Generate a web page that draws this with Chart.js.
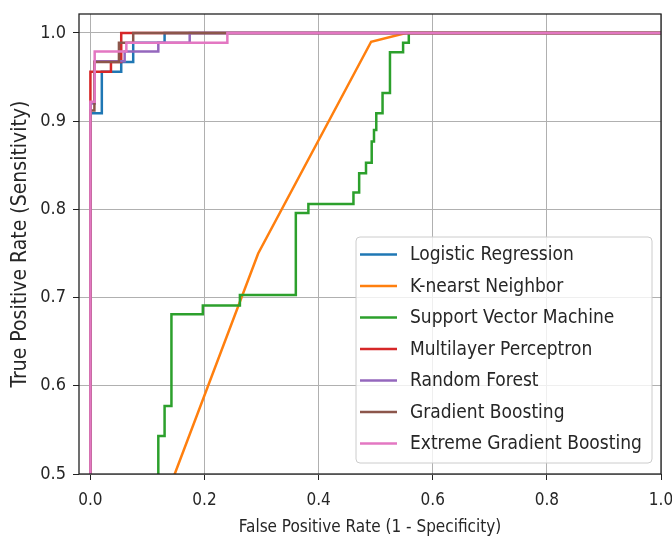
<!DOCTYPE html>
<html>
<head>
<meta charset="utf-8">
<script src="https://cdn.jsdelivr.net/npm/chart.js@4.4.1/dist/chart.umd.min.js"></script>
<style>
  html, body { margin: 0; padding: 0; background: #fff; }
  #wrap { width: 672px; height: 539px; }
</style>
</head>
<body>
<div id="wrap"><canvas id="roc" width="672" height="539"></canvas></div>
<script>
// ROC curves (fpr / tpr pairs per model)
const modelNames = ['Logistic Regression', 'K-nearst Neighbor', 'Support Vector Machine',
  'Multilayer Perceptron', 'Random Forest', 'Gradient Boosting', 'Extreme Gradient Boosting'];
const modelColors = ['#1f77b4', '#ff7f0e', '#2ca02c', '#d62728', '#9467bd', '#8c564b', '#e377c2'];

const lrFpr = [0, 0, 0.02, 0.02, 0.054, 0.054, 0.075, 0.075, 0.13, 0.13, 1];
const lrTpr = [0, 0.909, 0.909, 0.956, 0.956, 0.967, 0.967, 0.989, 0.989, 1, 1];

const knnFpr = [0, 0.06, 0.294, 0.492, 0.553, 1];
const knnTpr = [0, 0.35, 0.75, 0.99, 1, 1];

const svmFpr = [0, 0.119, 0.119, 0.130, 0.130, 0.142, 0.142, 0.197, 0.197, 0.262, 0.262, 0.360, 0.360,
  0.382, 0.382, 0.461, 0.461, 0.471, 0.471, 0.483, 0.483, 0.493, 0.493, 0.497, 0.497, 0.501, 0.501,
  0.512, 0.512, 0.525, 0.525, 0.548, 0.548, 0.558, 0.558, 1];
const svmTpr = [0, 0.45, 0.543, 0.543, 0.577, 0.577, 0.681, 0.681, 0.691, 0.691, 0.703, 0.703, 0.796,
  0.796, 0.806, 0.806, 0.819, 0.819, 0.841, 0.841, 0.853, 0.853, 0.877, 0.877, 0.89, 0.89, 0.909,
  0.909, 0.932, 0.932, 0.978, 0.978, 0.989, 0.989, 1, 1];

const mlpFpr = [0, 0, 0.036, 0.036, 0.054, 0.054, 1];
const mlpTpr = [0, 0.956, 0.956, 0.967, 0.967, 1, 1];

const rfFpr = [0, 0, 0.0075, 0.0075, 0.06, 0.06, 0.119, 0.119, 0.174, 0.174, 1];
const rfTpr = [0, 0.92, 0.92, 0.968, 0.968, 0.979, 0.979, 0.989, 0.989, 1, 1];

const gbFpr = [0, 0, 0.007, 0.007, 0.05, 0.05, 0.075, 0.075, 1];
const gbTpr = [0, 0.912, 0.912, 0.967, 0.967, 0.989, 0.989, 1, 1];

const xgbFpr = [0, 0, 0.0075, 0.0075, 0.063, 0.063, 0.24, 0.24, 1];
const xgbTpr = [0, 0.922, 0.922, 0.979, 0.979, 0.989, 0.989, 1, 1];

const xTicks = [0, 0.2, 0.4, 0.6, 0.8, 1.0];
const yTicks = [0.5, 0.6, 0.7, 0.8, 0.9, 1.0];

const curves = [[lrFpr, lrTpr], [knnFpr, knnTpr], [svmFpr, svmTpr], [mlpFpr, mlpTpr],
  [rfFpr, rfTpr], [gbFpr, gbTpr], [xgbFpr, xgbTpr]];

const FONT = '"DejaVu Sans Condensed", "Liberation Sans Narrow", "DejaVu Sans", sans-serif';
const TEXT = '#262626';

// frame around the axes, like matplotlib spines
const framePlugin = {
  id: 'frame',
  afterDatasetsDraw(chart) {
    const { ctx, chartArea: a } = chart;
    ctx.save();
    ctx.strokeStyle = '#222';
    ctx.lineWidth = 1.3;
    ctx.strokeRect(a.left, a.top, a.right - a.left, a.bottom - a.top);
    ctx.restore();
  }
};

// legend drawn inside the plot, lower right
const boxLegend = {
  id: 'boxLegend',
  afterDraw(chart) {
    const ctx = chart.ctx;
    const x0 = 356, y0 = 237, w = 296, h = 226;
    ctx.save();
    ctx.beginPath();
    ctx.roundRect(x0, y0, w, h, 4);
    ctx.fillStyle = 'rgba(255,255,255,0.8)';
    ctx.fill();
    ctx.strokeStyle = '#cccccc';
    ctx.lineWidth = 1;
    ctx.stroke();
    ctx.font = '19px ' + FONT;
    ctx.textBaseline = 'middle';
    chart.data.datasets.forEach((ds, i) => {
      const y = 254.5 + i * 31.5;
      ctx.strokeStyle = ds.borderColor;
      ctx.lineWidth = 2.5;
      ctx.beginPath();
      ctx.moveTo(360, y);
      ctx.lineTo(397, y);
      ctx.stroke();
      ctx.fillStyle = TEXT;
      ctx.fillText(ds.label, 410, y + 1);
    });
    ctx.restore();
  }
};

new Chart(document.getElementById('roc'), {
  type: 'scatter',
  data: {
    datasets: curves.map(([fpr, tpr], i) => ({
      label: modelNames[i],
      data: fpr.map((x, j) => ({ x: x, y: tpr[j] })),
      showLine: true,
      borderColor: modelColors[i],
      backgroundColor: modelColors[i],
      borderWidth: 2.5,
      pointRadius: 0,
      tension: 0,
      order: curves.length - i   // later models drawn on top, as in the picture
    }))
  },
  options: {
    responsive: false,
    animation: false,
    layout: { padding: { top: 14, right: 11, left: 0, bottom: 0 } },
    plugins: {
      legend: { display: false },
      tooltip: { enabled: false }
    },
    scales: {
      x: {
        type: 'linear',
        min: -0.02,
        max: 1.0,
        afterBuildTicks: (s) => { s.ticks = xTicks.map(v => ({ value: v })); },
        afterFit: (s) => { s.height = 65; s.paddingLeft = 0; s.paddingRight = 0; },
        grid: { color: '#b0b0b0', lineWidth: 1, tickColor: '#222', tickLength: 6, drawTicks: true },
        border: { display: false },
        ticks: {
          color: TEXT, padding: 10,
          font: { family: FONT, size: 17 },
          maxRotation: 0,
          callback: (v) => Number(v).toFixed(1)
        },
        title: {
          display: true,
          text: 'False Positive Rate (1 - Specificity)',
          color: TEXT,
          font: { family: FONT, size: 17 },
          padding: { top: 0, bottom: 1 }
        }
      },
      y: {
        type: 'linear',
        min: 0.5,
        max: 1.0215,
        afterBuildTicks: (s) => { s.ticks = yTicks.map(v => ({ value: v })); },
        afterFit: (s) => { s.width = 79; s.paddingTop = 0; s.paddingBottom = 0; },
        grid: { color: '#b0b0b0', lineWidth: 1, tickColor: '#222', tickLength: 6, drawTicks: true },
        border: { display: false },
        ticks: {
          color: TEXT, padding: 7,
          font: { family: FONT, size: 18 },
          callback: (v) => Number(v).toFixed(1)
        },
        title: {
          display: true,
          text: 'True Positive Rate (Sensitivity)',
          color: TEXT,
          font: { family: FONT, size: 21 },
          padding: { top: 8, bottom: 0 }
        }
      }
    }
  },
  plugins: [framePlugin, boxLegend]
});
</script>
</body>
</html>
